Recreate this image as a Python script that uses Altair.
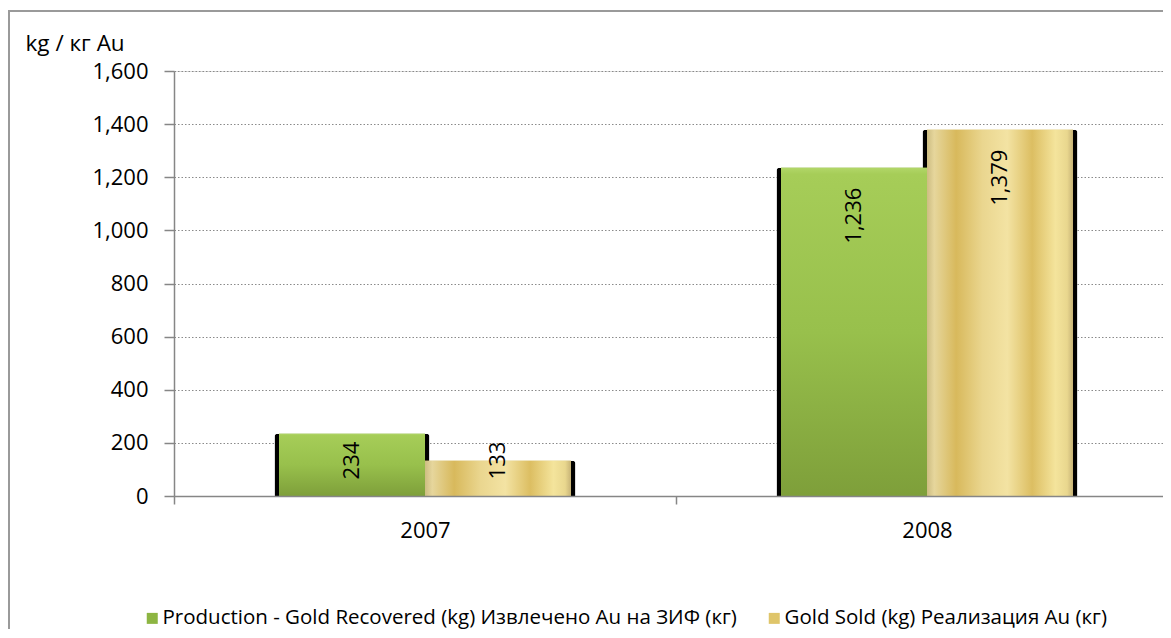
import altair as alt
import pandas as pd

years = ["2007", "2008"]
series_names = [
    "Production - Gold Recovered (kg) Извлечено Au на ЗИФ (кг)",
    "Gold Sold (kg) Реализация Au (кг)",
]
recovered = [234, 1236]
sold = [133, 1379]
y_ticks = [0, 200, 400, 600, 800, 1000, 1200, 1400, 1600]

rows = []
for i, yr in enumerate(years):
    rows.append({"year": yr, "series": series_names[0], "value": recovered[i]})
    rows.append({"year": yr, "series": series_names[1], "value": sold[i]})
df = pd.DataFrame(rows)

FONT = "Open Sans"

x_enc = alt.X(
    "year:N",
    sort=years,
    scale=alt.Scale(paddingInner=0.41833, paddingOuter=0.19422, align=0.5385),
    axis=alt.Axis(
        title=None, labelAngle=0, labelFontSize=22, labelColor="#000",
        labelPadding=16, tickSize=8, tickOffset=-251, labelOffset=251,
        domainColor="#868686", tickColor="#868686", domainWidth=1.5,
        tickWidth=1.5, grid=False, zindex=1, labelFont=FONT,
    ),
)
xo_enc = alt.XOffset("series:N", sort=series_names,
                     scale=alt.Scale(domain=series_names))
y_enc = alt.Y(
    "value:Q",
    scale=alt.Scale(domain=[0, 1600], nice=False),
    axis=alt.Axis(
        values=y_ticks, format=",d", title="kg / кг Au", titleAngle=0,
        titleX=-149, titleY=-21, titleAlign="left", titleBaseline="alphabetic",
        titleFontSize=22.5, titleFontWeight="normal", titleColor="#000",
        titleFont=FONT, labelFont=FONT,
        labelFontSize=22, labelColor="#000", labelPadding=16, tickSize=10,
        domainColor="#868686", tickColor="#868686", domainWidth=1.5,
        tickWidth=1.5, gridColor="#8a8a8a", gridDash=[1.5, 2], gridWidth=1,
        zindex=0,
    ),
)

base = alt.Chart(df)

frame_df = pd.DataFrame({"a": [0]})
frame_top = alt.Chart(frame_df).mark_rule(color="#9a9a9a", strokeWidth=2).encode(
    x=alt.value(-166), x2=alt.value(1000), y=alt.value(-60)
)
frame_left = alt.Chart(frame_df).mark_rule(color="#9a9a9a", strokeWidth=2).encode(
    x=alt.value(-165), y=alt.value(-60), y2=alt.value(570)
)

shadow = base.mark_bar(color="#000", width=155, cornerRadiusTopLeft=3,
                       cornerRadiusTopRight=3).encode(
    x=x_enc, xOffset=xo_enc, y=y_enc
)

flat = base.mark_bar().encode(
    x=x_enc, xOffset=xo_enc, y=y_enc,
    color=alt.Color(
        "series:N", sort=series_names,
        scale=alt.Scale(domain=series_names, range=["#8db542", "#dfc56a"]),
        legend=alt.Legend(
            title=None, orient="none", legendX=-32, legendY=537,
            direction="horizontal", symbolType="square", symbolSize=121,
            symbolStrokeWidth=0, symbolOpacity=1, labelFontSize=20.5,
            labelFont=FONT, labelColor="#000", labelOffset=0,
            columnPadding=27, labelLimit=800, padding=0,
        ),
    ),
)

green_grad = alt.LinearGradient(
    gradient="linear", x1=0, y1=0, x2=0, y2=1,
    stops=[
        alt.GradientStop(offset=0, color="#b2d769"),
        alt.GradientStop(offset=0.02, color="#a6cd58"),
        alt.GradientStop(offset=0.5, color="#98c04c"),
        alt.GradientStop(offset=1, color="#7e9f3a"),
    ],
)
gold_grad = alt.LinearGradient(
    gradient="linear", x1=0, y1=0, x2=1, y2=0,
    stops=[
        alt.GradientStop(offset=0, color="#cdbd82"),
        alt.GradientStop(offset=0.05, color="#e6d69c"),
        alt.GradientStop(offset=0.2, color="#d8b95c"),
        alt.GradientStop(offset=0.38, color="#ead68f"),
        alt.GradientStop(offset=0.55, color="#f3e3a3"),
        alt.GradientStop(offset=0.72, color="#dcbe62"),
        alt.GradientStop(offset=0.88, color="#f4e49c"),
        alt.GradientStop(offset=0.96, color="#e9d78e"),
        alt.GradientStop(offset=1, color="#c7b377"),
    ],
)

green_bars = base.transform_filter(
    alt.datum.series == series_names[0]
).mark_bar(color=green_grad).encode(x=x_enc, xOffset=xo_enc, y=y_enc)
gold_bars = base.transform_filter(
    alt.datum.series == series_names[1]
).mark_bar(color=gold_grad).encode(x=x_enc, xOffset=xo_enc, y=y_enc)

labels = base.transform_calculate(
    lab="format(datum.value, ',d')"
).transform_calculate(
    value="max(datum.value, 280)"
).mark_text(
    angle=270, align="right", baseline="middle", dx=-20, fontSize=22,
    font=FONT, color="#000"
).encode(x=x_enc, xOffset=xo_enc, y=y_enc, text="lab:N")

chart = alt.layer(
    frame_top, frame_left, shadow, flat, green_bars, gold_bars, labels
).properties(
    width=989, height=425,
    autosize=alt.AutoSizeParams(type="none"),
    padding={"left": 166, "top": 63, "right": 0, "bottom": 133},
).configure_view(stroke=None).configure(font=FONT)

chart.save("out.html", embed_options={"renderer": "svg", "actions": False})
